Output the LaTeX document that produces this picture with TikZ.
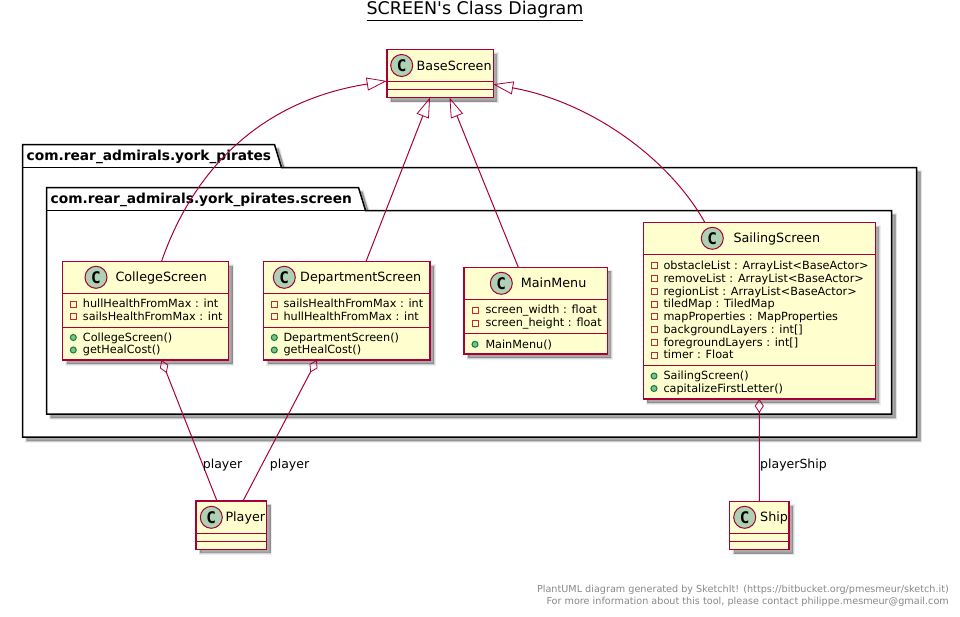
\documentclass[tikz,border=0pt]{standalone}
\usepackage{fontspec}
\setmainfont{DejaVu Sans}
\newfontfamily\plainf{DejaVu Sans}
\newfontfamily\monob{DejaVu Sans Mono}[BoldFont={DejaVu Sans Mono Bold}]
\usetikzlibrary{arrows.meta,shadows,calc}
\definecolor{umlred}{HTML}{A80036}
\definecolor{umlfill}{HTML}{FEFECE}
\definecolor{umlc}{HTML}{ADD1B2}
\definecolor{privred}{HTML}{C82930}
\definecolor{pubfill}{HTML}{84BE84}
\definecolor{pubdraw}{HTML}{038048}
\definecolor{footgray}{HTML}{888888}
\newcommand{\fpx}[1]{\fontsize{#1pt}{#1pt}\selectfont}
\tikzset{
  softshadow/.style={
    drop shadow={shadow xshift=4pt,shadow yshift=-4pt,draw=black,fill=black,line width=3pt,opacity=.07},
    drop shadow={shadow xshift=4pt,shadow yshift=-4pt,draw=black,fill=black,line width=1.5pt,opacity=.1},
    drop shadow={shadow xshift=4pt,shadow yshift=-4pt,fill=black,opacity=.2}},
  cls/.style={rectangle,draw=umlred,fill=umlfill,line width=1.5pt,inner sep=0pt,outer sep=0pt,softshadow},
  divider/.style={draw=umlred,line width=1pt},
  pkg/.style={draw=black,fill=white,line width=1.5pt,line join=miter,softshadow},
  tabline/.style={draw=black,line width=1.5pt},
  pkgtitle/.style={font=\fpx{13.75}\bfseries,anchor=base west,inner sep=0pt},
  spot/.style={circle,draw=umlred,fill=umlc,line width=1pt,minimum size=22pt,inner sep=0pt,font=\monob\fpx{16}\bfseries},
  cname/.style={font=\fpx{12.75},anchor=west,inner sep=0pt,text height=11pt,text depth=2pt},
  member/.style={font=\fpx{11.25},anchor=west,inner sep=0pt,text height=9pt,text depth=1.4pt},
  priv/.style={rectangle,draw=privred,line width=1pt,minimum size=6pt,inner sep=0pt},
  pub/.style={circle,draw=pubdraw,fill=pubfill,line width=1pt,minimum size=6pt,inner sep=0pt},
  rel/.style={draw=umlred,line width=1pt},
  extends/.style={rel,-{Triangle[open,length=20pt,width=13pt,line width=.8pt]}},
  owns/.style={rel,{Diamond[open,length=14pt,width=9pt,line width=.8pt]}-},
  lbl/.style={font=\fpx{12.5},inner sep=0pt,text height=10pt,text depth=1pt},
  foot/.style={font=\fpx{9.65},text=footgray,anchor=east,inner sep=0pt,text height=9pt,text depth=2pt}
}
\newcommand{\memberrow}[6]{%
  \node[#1] (#2s) at (#3,#5) {};
  \node[member] (#2t) at (#4,#5) {#6};}
\begin{document}
\begin{tikzpicture}[x=1pt,y=-1pt]
\useasboundingbox (0,0) rectangle (960,616);
\node[font=\plainf\fpx{17.5},inner sep=0pt] (title) at (475,11) {\underline{SCREEN's Class Diagram}};

% packages
\draw[pkg] (22.5,167.5) -- (22.5,144.5) -- (274.5,144.5) -- (281.5,167.5) -- (916.5,167.5) -- (916.5,437) -- (22.5,437) -- cycle;
\draw[tabline] (22.5,167.5) -- (281.5,167.5);
\node[pkgtitle] (pkgA) at (26.5,160.5) {com.rear\_admirals.york\_pirates};
\draw[pkg] (46.5,210.5) -- (46.5,187.5) -- (358.5,187.5) -- (365.5,210.5) -- (891.5,210.5) -- (891.5,414) -- (46.5,414) -- cycle;
\draw[tabline] (46.5,210.5) -- (365.5,210.5);
\node[pkgtitle] (pkgB) at (50.5,203.5) {com.rear\_admirals.york\_pirates.screen};

% classes
\node[cls,minimum width=106.5pt,minimum height=48pt] (base) at (440,73.5) {};
\node[cls,minimum width=166pt,minimum height=98.5pt] (college) at (145.5,310.75) {};
\node[cls,minimum width=166.5pt,minimum height=98.5pt] (dept) at (346.75,310.75) {};
\node[cls,minimum width=143.3pt,minimum height=86.7pt] (menu) at (535.65,310.65) {};
\node[cls,minimum width=232pt,minimum height=176.3pt] (sailing) at (759.3,310.85) {};
\node[cls,minimum width=70.7pt,minimum height=48.3pt] (player) at (231.35,525.15) {};
\node[cls,minimum width=59.5pt,minimum height=48pt] (ship) at (759.25,525.5) {};

% connectors
\draw[extends] ([xshift=16pt]college.north) .. controls (195,165) and (265,100) .. ([yshift=-7.5pt]base.west);
\draw[extends] ([xshift=19.25pt]dept.north) -- ([xshift=-10pt]base.south);
\draw[extends] ([xshift=-17.35pt]menu.north) -- ([xshift=9.5pt]base.south);
\draw[extends] ([xshift=-54.3pt]sailing.north) .. controls (668,157) and (590,102) .. ([yshift=-10.8pt]base.east);
\draw[owns] ([xshift=16pt]college.south) -- ([xshift=-14.35pt]player.north);
\draw[owns] ([xshift=-30pt]dept.south) -- ([xshift=11.65pt]player.north);
\draw[owns] (sailing.south) -- (ship.north);

\node[lbl] (l1) at (222.5,463.8) {player};
\node[lbl] (l2) at (289.5,463.8) {player};
\node[lbl] (l3) at (793.5,463.8) {playerShip};

% BaseScreen
\node[spot] (baseC) at (401.7,65.5) {C};
\node[cname] (baseN) at (416.5,65.5) {BaseScreen};
\draw[divider] (base.west |- 0,81) -- (base.east |- 0,81);
\draw[divider] (base.west |- 0,89.3) -- (base.east |- 0,89.3);

% CollegeScreen
\node[spot] (colC) at (96,277.3) {C};
\node[cname] (colN) at (115.3,277.3) {CollegeScreen};
\draw[divider] (college.west |- 0,293.3) -- (college.east |- 0,293.3);
\draw[divider] (college.west |- 0,327.7) -- (college.east |- 0,327.7);
\memberrow{priv}{ca}{73.3}{82.7}{304}{hullHealthFromMax : int}
\memberrow{priv}{cb}{73.3}{82.7}{316.5}{sailsHealthFromMax : int}
\memberrow{pub}{cc}{73.3}{82.7}{337.5}{CollegeScreen()}
\memberrow{pub}{cd}{73.3}{82.7}{350}{getHealCost()}

% DepartmentScreen
\node[spot] (depC) at (284.3,277.3) {C};
\node[cname] (depN) at (300,277.3) {DepartmentScreen};
\draw[divider] (dept.west |- 0,293.3) -- (dept.east |- 0,293.3);
\draw[divider] (dept.west |- 0,327.7) -- (dept.east |- 0,327.7);
\memberrow{priv}{da}{274.3}{283.3}{304}{sailsHealthFromMax : int}
\memberrow{priv}{db}{274.3}{283.3}{316.5}{hullHealthFromMax : int}
\memberrow{pub}{dc}{274.3}{283.3}{337.5}{DepartmentScreen()}
\memberrow{pub}{dd}{274.3}{283.3}{350}{getHealCost()}

% MainMenu
\node[spot] (menC) at (501.3,283.3) {C};
\node[cname] (menN) at (520.7,283.3) {MainMenu};
\draw[divider] (menu.west |- 0,299) -- (menu.east |- 0,299);
\draw[divider] (menu.west |- 0,333.7) -- (menu.east |- 0,333.7);
\memberrow{priv}{ma}{475}{485.3}{310}{screen\_width : float}
\memberrow{priv}{mb}{475}{485.3}{323}{screen\_height : float}
\memberrow{pub}{mc}{475}{485.3}{344.3}{MainMenu()}

% SailingScreen
\node[spot] (saiC) at (712.3,238.3) {C};
\node[cname] (saiN) at (733.3,238.3) {SailingScreen};
\draw[divider] (sailing.west |- 0,254) -- (sailing.east |- 0,254);
\draw[divider] (sailing.west |- 0,365) -- (sailing.east |- 0,365);
\memberrow{priv}{sa}{654}{663.3}{265.5}{obstacleList : ArrayList<BaseActor>}
\memberrow{priv}{sb}{654}{663.3}{278.3}{removeList : ArrayList<BaseActor>}
\memberrow{priv}{sc}{654}{663.3}{291.2}{regionList : ArrayList<BaseActor>}
\memberrow{priv}{sd}{654}{663.3}{304}{tiledMap : TiledMap}
\memberrow{priv}{se}{654}{663.3}{316.5}{mapProperties : MapProperties}
\memberrow{priv}{sf}{654}{663.3}{329.3}{backgroundLayers : int[]}
\memberrow{priv}{sg}{654}{663.3}{342.2}{foregroundLayers : int[]}
\memberrow{priv}{sh}{654}{663.3}{355}{timer : Float}
\memberrow{pub}{si}{654}{663.3}{376}{SailingScreen()}
\memberrow{pub}{sj}{654}{663.3}{388.5}{capitalizeFirstLetter()}

% Player, Ship
\node[spot] (plaC) at (211.3,517.3) {C};
\node[cname] (plaN) at (225.3,517.3) {Player};
\draw[divider] (player.west |- 0,533.3) -- (player.east |- 0,533.3);
\draw[divider] (player.west |- 0,541.7) -- (player.east |- 0,541.7);
\node[spot] (shiC) at (744.7,517.3) {C};
\node[cname] (shiN) at (760,517.3) {Ship};
\draw[divider] (ship.west |- 0,533.3) -- (ship.east |- 0,533.3);
\draw[divider] (ship.west |- 0,541.7) -- (ship.east |- 0,541.7);

\node[foot] (f1) at (949,588.5) {PlantUML diagram generated by SketchIt! (https://bitbucket.org/pmesmeur/sketch.it)};
\node[foot] (f2) at (949,600.5) {For more information about this tool, please contact philippe.mesmeur@gmail.com};
\end{tikzpicture}
\end{document}
